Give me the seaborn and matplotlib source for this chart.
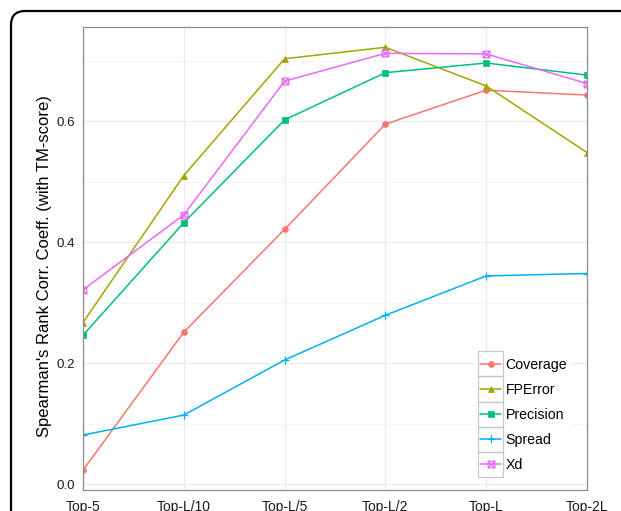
import numpy as np
import pandas as pd
import matplotlib
matplotlib.use("Agg")
import matplotlib.pyplot as plt
from matplotlib.path import Path
from matplotlib.patches import FancyBboxPatch, Rectangle
from matplotlib.transforms import IdentityTransform
import seaborn as sns

# ---- data -------------------------------------------------------------
categories = ["Top-5", "Top-L/10", "Top-L/5", "Top-L/2", "Top-L", "Top-2L"]
coverage = [0.023, 0.251, 0.421, 0.595, 0.651, 0.643]
fperror = [0.267, 0.510, 0.703, 0.722, 0.658, 0.548]
precision = [0.246, 0.432, 0.602, 0.680, 0.696, 0.676]
spread = [0.081, 0.114, 0.205, 0.279, 0.344, 0.348]
xd = [0.321, 0.445, 0.666, 0.712, 0.711, 0.662]

series_names = ["Coverage", "FPError", "Precision", "Spread", "Xd"]
series_values = [coverage, fperror, precision, spread, xd]
y_ticks = [0.0, 0.2, 0.4, 0.6]
y_label = "Spearman's Rank Corr. Coeff. (with TM-score)"

# ---- styling ----------------------------------------------------------
sns.set_style("white")
plt.rcParams["font.family"] = ["Liberation Sans", "DejaVu Sans"]

colors = ["#F8766D", "#A3A500", "#00BF7D", "#00B0F6", "#E76BF3"]

# square with a cross inside
box_cross = Path(
    [(-1, -1), (1, -1), (1, 1), (-1, 1), (-1, -1),
     (-1, -1), (1, 1), (-1, 1), (1, -1)],
    [Path.MOVETO, Path.LINETO, Path.LINETO, Path.LINETO, Path.CLOSEPOLY,
     Path.MOVETO, Path.LINETO, Path.MOVETO, Path.LINETO],
)
marker_specs = [
    dict(marker="o", markersize=4.2, filled=True),
    dict(marker="^", markersize=5.0, filled=True),
    dict(marker="s", markersize=4.0, filled=True),
    dict(marker="+", markersize=6.0, filled=False),
    dict(marker=box_cross, markersize=4.8, filled=False),
]

W, H, DPI = 621, 511, 100
fig = plt.figure(figsize=(W / DPI, H / DPI), dpi=DPI)
fig.patch.set_facecolor("white")

left, right, top, bottom = 83, 587, 26.7, 490
ax = fig.add_axes([left / W, 1 - bottom / H, (right - left) / W, (bottom - top) / H])

df = pd.DataFrame({
    "cat": np.tile(categories, len(series_names)),
    "pos": np.tile(np.arange(len(categories)), len(series_names)),
    "value": np.concatenate(series_values),
    "series": np.repeat(series_names, len(categories)),
})

handles = []
for name, color, spec in zip(series_names, colors, marker_specs):
    sub = df[df["series"] == name]
    sns.lineplot(data=sub, x="pos", y="value", ax=ax, color=color,
                 linewidth=1.1, marker=spec["marker"],
                 markersize=spec["markersize"], legend=False)
    line = ax.lines[-1]
    line.set_markeredgecolor(color)
    line.set_markerfacecolor(color if spec["filled"] else "none")
    line.set_markeredgewidth(0.9 if not spec["filled"] else 0.5)
    line.set_label(name)
    handles.append(line)

# axes limits & ticks
ax.set_xlim(0, len(categories) - 1)
ax.set_ylim(-0.0099, 0.756)
ax.set_xticks(np.arange(len(categories)))
ax.set_xticklabels(categories)
ax.set_yticks(y_ticks)
ax.set_yticklabels([f"{t:.1f}" for t in y_ticks])
ax.set_yticks([0.1, 0.3, 0.5, 0.7], minor=True)
ax.set_xlabel("")
ax.set_ylabel(y_label, fontsize=12, color="black")
ax.yaxis.set_label_coords(-0.061, 0.4835)

ax.tick_params(axis="both", which="major", direction="out", length=4,
               width=0.8, color="#333333", labelcolor="#1a1a1a")
ax.tick_params(axis="y", which="major", labelsize=9.6, pad=2)
ax.tick_params(axis="x", which="major", labelsize=10, pad=3.5)
ax.tick_params(axis="y", which="minor", length=0)

ax.grid(True, which="major", color="#EBEBEB", linewidth=0.8)
ax.grid(True, which="minor", axis="y", color="#F2F2F2", linewidth=0.6)
ax.set_axisbelow(True)
for sp in ax.spines.values():
    sp.set_visible(True)
    sp.set_color("#8c8c8c")
    sp.set_linewidth(0.9)

# legend inside the panel, bottom-right
leg = ax.legend(handles=handles, labels=series_names,
                loc="lower right", bbox_to_anchor=(0.969, 0.029),
                frameon=True, fancybox=False, framealpha=1,
                facecolor="white", edgecolor="none",
                fontsize=10.2, handlelength=1.5, handletextpad=0.3,
                labelspacing=0.785, borderpad=0.3, borderaxespad=0)
for t in leg.get_texts():
    t.set_color("black")

# grey boxes around each legend key
fig.canvas.draw()
for ln in leg.get_lines():
    pts = ln.get_transform().transform(ln.get_xydata())
    x0, x1 = pts[:, 0].min(), pts[:, 0].max()
    yc = pts[:, 1].mean()
    bw, bh = (x1 - x0) + 4, 25.2
    fig.patches.append(Rectangle((x0 - 2, yc - bh / 2), bw, bh,
                                 transform=IdentityTransform(), fill=False,
                                 edgecolor="#c8c8c8", linewidth=0.9,
                                 figure=fig))

# rounded outer frame
frame = FancyBboxPatch((11, -40), 680, 540,
                       boxstyle="round,pad=0,rounding_size=14",
                       transform=IdentityTransform(), fill=False,
                       edgecolor="black", linewidth=1.6, figure=fig)
fig.patches.append(frame)

fig.savefig("out.png", dpi=DPI)
